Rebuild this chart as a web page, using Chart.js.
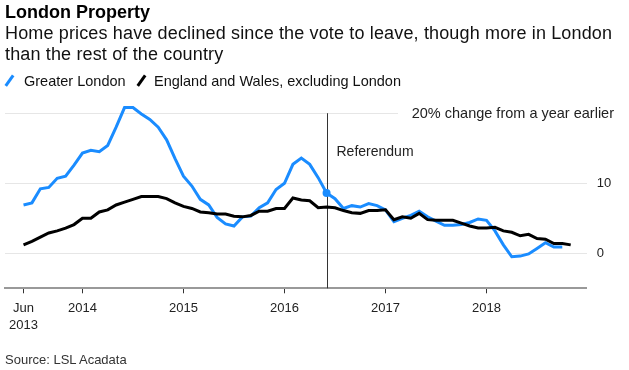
<!DOCTYPE html>
<html>
<head>
<meta charset="utf-8">
<script src="https://cdn.jsdelivr.net/npm/chart.js@4/dist/chart.umd.min.js"></script>
<style>
  html, body { margin: 0; padding: 0; background: #fff; }
  body { width: 629px; height: 370px; position: relative; overflow: hidden;
         font-family: "Liberation Sans", Arial, sans-serif; color: #000; }
  #wrap { position: absolute; left: 0; top: 0; width: 629px; height: 370px; }
  .txt { position: absolute; white-space: nowrap; }
  #title { left: 5px; top: 1px; font-size: 18px; line-height: 22px; font-weight: bold; }
  #sub { left: 5px; top: 22.5px; font-size: 18px; line-height: 21px; letter-spacing: 0.15px; color: #111; }
  .leg { top: 72px; font-size: 14.5px; line-height: 18px; color: #111; }
  .icon { position: absolute; top: 74px; width: 2.5px; height: 13px; transform: rotate(35deg); }
  #source { left: 5px; top: 352px; font-size: 13px; line-height: 16px; color: #333; }
</style>
</head>
<body>
<div id="wrap"><canvas id="chart" width="629" height="370"></canvas></div>
<div class="txt" id="title">London Property</div>
<div class="txt" id="sub">Home prices have declined since the vote to leave, though more in London<br>than the rest of the country</div>
<span class="icon" style="left:8px;background:#1a8cff"></span>
<div class="txt leg" style="left:24px">Greater London</div>
<span class="icon" style="left:140px;background:#000"></span>
<div class="txt leg" style="left:154px">England and Wales, excluding London</div>
<div class="txt" id="source">Source: LSL Acadata</div>
<script>
// monthly, June 2013 onwards (% change from a year earlier)
const monthNames = ['Jan','Feb','Mar','Apr','May','Jun','Jul','Aug','Sep','Oct','Nov','Dec'];
const months = [];
for (let i = 0; i < 66; i++) {
  const m = (5 + i) % 12, y = 2013 + Math.floor((5 + i) / 12);
  months.push(monthNames[m] + ' ' + y);
}

const greaterLondon = [6.9, 7.2, 9.2, 9.4, 10.7, 11.0, 12.6, 14.3, 14.7, 14.5, 15.4, 18.0,
  20.8, 20.8, 19.9, 19.1, 18.0, 16.2, 13.5, 11.0, 9.6, 7.7, 6.9, 5.1,
  4.2, 3.9, 5.2, 5.3, 6.5, 7.2, 9.1, 10.0, 12.7, 13.6, 12.7, 10.8,
  8.6, 7.8, 6.4, 6.8, 6.6, 7.1, 6.8, 6.2, 4.5, 5.0, 5.4, 6.0,
  5.2, 4.6, 4.0, 4.0, 4.1, 4.4, 4.9, 4.7, 3.2, 1.2, -0.5, -0.4,
  -0.1, 0.7, 1.5, 0.9, 0.9];

const englandWales = [1.2, 1.7, 2.3, 2.9, 3.2, 3.6, 4.1, 5.0, 5.0, 5.9, 6.2, 6.9,
  7.3, 7.7, 8.1, 8.1, 8.1, 7.8, 7.2, 6.7, 6.4, 5.9, 5.8, 5.6,
  5.6, 5.3, 5.2, 5.4, 6.0, 6.0, 6.4, 6.4, 7.9, 7.6, 7.5, 6.5,
  6.6, 6.5, 6.1, 5.8, 5.7, 6.1, 6.1, 6.2, 4.8, 5.2, 5.0, 5.7,
  4.8, 4.7, 4.7, 4.7, 4.3, 3.9, 3.6, 3.6, 3.7, 3.2, 3.0, 2.5,
  2.7, 2.1, 2.0, 1.4, 1.4, 1.2];

const xTickMonths = ['Jun 2013', 'Jan 2014', 'Jan 2015', 'Jan 2016', 'Jan 2017', 'Jan 2018'];
const xTickLabels = [['Jun', '2013'], '2014', '2015', '2016', '2017', '2018'];
const yTicks = [0, 10, 20];
const yTopLabel = '20% change from a year earlier';
const referendumMonth = 'Jun 2016';
const referendumLabel = 'Referendum';

const refIdx = months.indexOf(referendumMonth);
const tickIdx = xTickMonths.map(m => months.indexOf(m));

const blue = '#1a8cff';
const FONT = '"Liberation Sans", Arial, sans-serif';

const annotations = {
  id: 'annotations',
  beforeDatasetsDraw(chart) {
    const { ctx, scales: { x, y }, chartArea } = chart;
    const px = Math.round(x.getPixelForValue(refIdx)) + 0.5;
    ctx.save();
    ctx.strokeStyle = '#333';
    ctx.lineWidth = 1;
    ctx.beginPath();
    ctx.moveTo(px, y.getPixelForValue(20));
    ctx.lineTo(px, chartArea.bottom);
    ctx.stroke();
    ctx.font = '14px ' + FONT;
    ctx.fillStyle = '#222';
    ctx.textBaseline = 'middle';
    ctx.fillText(referendumLabel, px + 9, y.getPixelForValue(14.4));
    ctx.restore();
  },
  afterDraw(chart) {
    const { ctx, scales: { y }, chartArea } = chart;
    const py = y.getPixelForValue(20);
    ctx.save();
    ctx.fillStyle = '#fff';
    ctx.fillRect(398, py - 2, chartArea.right - 398 + 1, 4);
    ctx.font = '14.5px ' + FONT;
    ctx.fillStyle = '#222';
    ctx.textAlign = 'right';
    ctx.textBaseline = 'middle';
    ctx.fillText(yTopLabel, 614, py + 1);
    ctx.restore();
  }
};

new Chart(document.getElementById('chart'), {
  type: 'line',
  data: {
    datasets: [{
      label: 'Greater London',
      data: greaterLondon.map((v, i) => ({ x: i, y: v })),
      borderColor: blue,
      backgroundColor: blue,
      borderWidth: 3,
      pointRadius: ctx => ctx.dataIndex === refIdx ? 4 : 0,
      pointBorderWidth: 0,
      fill: false,
      order: 2
    }, {
      label: 'England and Wales, excluding London',
      data: englandWales.map((v, i) => ({ x: i, y: v })),
      borderColor: '#000',
      borderWidth: 3,
      pointRadius: 0,
      fill: false,
      order: 1
    }]
  },
  options: {
    responsive: false,
    animation: false,
    events: [],
    layout: { padding: { left: 5, top: 102, right: 0, bottom: 0 } },
    plugins: { legend: { display: false }, tooltip: { enabled: false } },
    scales: {
      x: {
        type: 'linear',
        min: -2.2,
        max: 66.9,
        afterBuildTicks: s => { s.ticks = tickIdx.map(v => ({ value: v })); },
        afterFit: s => { s.height = 370 - 288.3; },
        grid: { display: true, drawOnChartArea: false, drawTicks: true, tickLength: 5, tickColor: '#333', lineWidth: 1 },
        border: { display: true, color: '#999', width: 2 },
        ticks: {
          autoSkip: false,
          maxRotation: 0,
          padding: 6,
          color: '#222',
          font: { family: FONT, size: 13, lineHeight: 1.35 },
          callback: v => xTickLabels[tickIdx.indexOf(v)]
        }
      },
      y: {
        position: 'right',
        min: -5,
        max: 21.6,
        afterBuildTicks: s => { s.ticks = yTicks.map(v => ({ value: v })); },
        afterFit: s => { s.width = 629 - 586.7; },
        grid: { color: '#e6e6e6', lineWidth: 1, drawTicks: false },
        border: { display: false },
        ticks: {
          padding: 10,
          color: '#222',
          font: { family: FONT, size: 13 },
          callback: v => v === 20 ? '' : String(v)
        }
      }
    }
  },
  plugins: [annotations]
});
</script>
</body>
</html>
